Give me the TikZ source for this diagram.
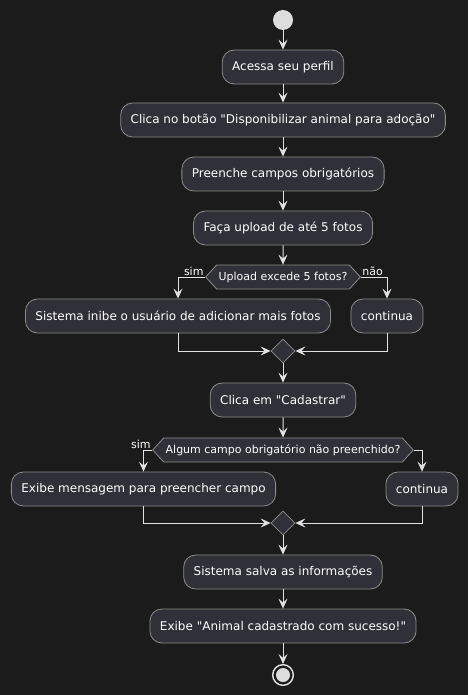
\documentclass[tikz,border=0pt]{standalone}
\usepackage{fontspec}
\setmainfont{DejaVu Sans}[Ligatures=TeXOff]
\usetikzlibrary{positioning,shapes.geometric,shapes.symbols,arrows.meta}

\begin{document}
\begin{tikzpicture}[x=0.75pt,y=-0.75pt]
  % some colors
  \definecolor{bg}{HTML}{1B1B1B}
  \definecolor{boxfill}{HTML}{303038}
  \definecolor{boxline}{HTML}{8C8C8C}
  \definecolor{flowline}{HTML}{E2E2E2}
  \definecolor{dot}{HTML}{DDDDDD}
  % some styles
  \tikzset{
    act/.style={
      rectangle,
      rounded corners=9pt,
      draw=boxline,
      fill=boxfill,
      line width=0.6pt,
      minimum height=25.5pt,
      inner xsep=7.5pt,
      text=white,
      font=\fontsize{9}{11}\selectfont,
    },
    cond/.style={
      signal,
      signal to=west and east,
      signal pointer angle=95,
      draw=boxline,
      fill=boxfill,
      line width=0.6pt,
      minimum height=18pt,
      inner xsep=1.5pt,
      inner ysep=0pt,
      text=white,
      font=\fontsize{8.25}{10}\selectfont,
    },
    merge/.style={diamond, draw=boxline, fill=boxfill, line width=0.6pt, minimum size=18pt, inner sep=0pt},
    lbl/.style={text=white, font=\fontsize{8.25}{10}\selectfont, inner sep=1pt},
    flow/.style={draw=flowline, line width=0.75pt, -{Stealth[length=7.5pt, width=6.75pt, inset=3pt]}},
  }
  \useasboundingbox[fill=bg] (0,0) rectangle (468,695);
  % main column
  \node[circle, fill=dot, minimum size=15pt, inner sep=0pt] (start) at (283,20) {};
  \node[act] (acessa) at (283,67) {Acessa seu perfil};
  \node[act] (clica) at (283,120) {Clica no botão "Disponibilizar animal para adoção"};
  \node[act] (preenche) at (283,174) {Preenche campos obrigatórios};
  \node[act] (upload) at (283,228) {Faça upload de até 5 fotos};
  % first choice
  \node[cond] (excede) at (283,277) {Upload excede 5 fotos?};
  \node[act] (inibe) at (178,316) {Sistema inibe o usuário de adicionar mais fotos};
  \node[act] (cont-a) at (387,316) {continua};
  \node[merge] (merge-a) at (283,351) {};
  \node[act] (cadastrar) at (283,400) {Clica em "Cadastrar"};
  % second choice
  \node[cond] (campo) at (283,450) {Algum campo obrigatório não preenchido?};
  \node[act] (msg) at (143.5,489) {Exibe mensagem para preencher campo};
  \node[act] (cont-b) at (422,489) {continua};
  \node[merge] (merge-b) at (283,523) {};
  \node[act] (salva) at (283,572) {Sistema salva as informações};
  \node[act] (sucesso) at (283,626) {Exibe "Animal cadastrado com sucesso!"};
  \node[circle, draw=dot, line width=1.1pt, fill=bg, minimum size=15.5pt, inner sep=0pt] (stop) at (283,675) {};
  \node[circle, fill=dot, minimum size=10.5pt, inner sep=0pt] (stop-in) at (stop) {};
  % labels of the choices
  \node[lbl, anchor=south east] (sim-a) at (excede.west) {sim};
  \node[lbl, anchor=south west] (nao-a) at (excede.east) {não};
  \node[lbl, anchor=south east] (sim-b) at (campo.west) {sim};
  % straight flow
  \foreach \a/\b in {start/acessa, acessa/clica, clica/preenche, preenche/upload, upload/excede,
                     merge-a/cadastrar, cadastrar/campo, merge-b/salva, salva/sucesso, sucesso/stop}
    \draw[flow] (\a) -- (\b);
  % branches
  \draw[flow] (excede.west) -| (inibe.north);
  \draw[flow] (excede.east) -| (cont-a.north);
  \draw[flow] (inibe.south) |- (merge-a.west);
  \draw[flow] (cont-a.south) |- (merge-a.east);
  \draw[flow] (campo.west) -| (msg.north);
  \draw[flow] (campo.east) -| (cont-b.north);
  \draw[flow] (msg.south) |- (merge-b.west);
  \draw[flow] (cont-b.south) |- (merge-b.east);
\end{tikzpicture}
\end{document}
